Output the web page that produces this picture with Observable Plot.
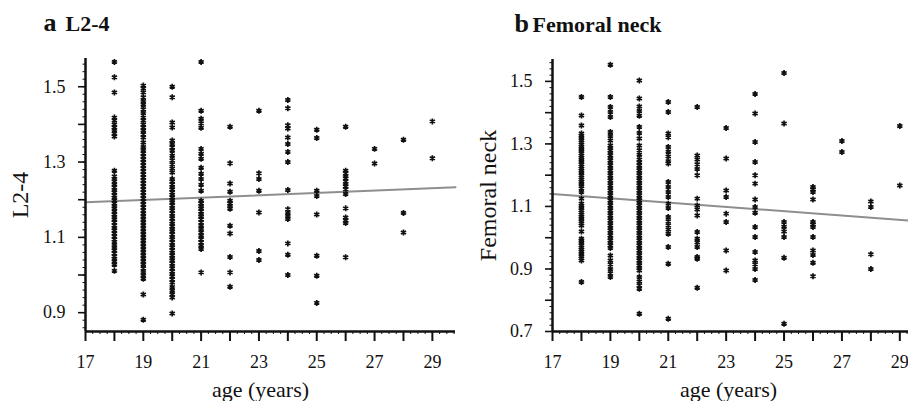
<!DOCTYPE html>
<html><head><meta charset="utf-8">
<script src="https://cdn.jsdelivr.net/npm/d3@7"></script>
<script src="https://cdn.jsdelivr.net/npm/@observablehq/plot@0.6"></script>
<style>
body{margin:0;background:#fff;}
#wrap{position:relative;width:908px;height:401px;overflow:hidden;background:#fff;}
#wrap svg{position:absolute;top:0;}
</style></head><body><div id="wrap"></div>
<script>
const ages = [18,19,20,21,22,23,24,25,26,27,28,29];
const xTickLabels = [17,19,21,23,25,27,29];

// Panel a: L2-4 BMD by age (one list per age)
const l24 = [
  [1.566,1.525,1.485,1.418,1.41,1.40,1.392,1.385,1.376,1.368,1.277,1.262,1.255,1.248,1.24,1.233,1.226,1.219,1.212,1.205,1.198,1.19,1.183,1.176,1.168,1.161,1.154,1.147,1.14,1.132,1.125,1.118,1.11,1.102,1.095,1.088,1.08,1.072,1.065,1.058,1.05,1.043,1.035,1.027,1.011],
  [1.503,1.495,1.485,1.472,1.462,1.452,1.44,1.43,1.418,1.41,1.4,1.392,1.383,1.374,1.365,1.352,1.34,1.332,1.323,1.315,1.307,1.299,1.291,1.283,1.275,1.267,1.259,1.251,1.243,1.235,1.227,1.219,1.211,1.203,1.195,1.187,1.179,1.171,1.163,1.155,1.147,1.139,1.131,1.123,1.115,1.107,1.099,1.091,1.083,1.075,1.067,1.059,1.051,1.043,1.035,1.027,1.018,1.008,0.998,0.99,0.948,0.881],
  [1.50,1.472,1.405,1.392,1.357,1.348,1.339,1.33,1.317,1.305,1.294,1.283,1.272,1.255,1.248,1.241,1.234,1.227,1.22,1.213,1.206,1.199,1.192,1.185,1.178,1.171,1.164,1.157,1.15,1.143,1.136,1.129,1.122,1.115,1.108,1.101,1.094,1.087,1.08,1.073,1.066,1.059,1.052,1.045,1.038,1.031,1.024,1.017,1.01,1.003,0.996,0.989,0.98,0.968,0.958,0.948,0.94,0.898],
  [1.566,1.436,1.415,1.403,1.391,1.335,1.322,1.309,1.285,1.269,1.255,1.24,1.224,1.197,1.19,1.183,1.176,1.169,1.162,1.155,1.148,1.14,1.131,1.122,1.113,1.104,1.095,1.087,1.078,1.069,1.007],
  [1.394,1.297,1.243,1.221,1.197,1.19,1.183,1.176,1.131,1.11,1.048,1.007,0.969],
  [1.436,1.27,1.255,1.224,1.166,1.064,1.04],
  [1.465,1.443,1.398,1.389,1.365,1.348,1.327,1.30,1.226,1.175,1.165,1.157,1.149,1.084,1.054,1.0],
  [1.386,1.364,1.224,1.21,1.161,1.051,0.998,0.926],
  [1.394,1.277,1.27,1.263,1.256,1.249,1.242,1.235,1.228,1.215,1.177,1.153,1.145,1.138,1.047],
  [1.335,1.296],
  [1.359,1.165,1.113],
  [1.408,1.31]
];

// Panel b: Femoral neck BMD by age
const fneck = [
  [1.45,1.391,1.359,1.333,1.326,1.319,1.312,1.305,1.298,1.291,1.284,1.277,1.27,1.263,1.256,1.249,1.242,1.235,1.228,1.221,1.214,1.207,1.2,1.193,1.186,1.179,1.172,1.165,1.158,1.146,1.125,1.109,1.102,1.095,1.088,1.081,1.074,1.067,1.06,1.053,1.046,1.039,1.02,0.997,0.99,0.983,0.976,0.969,0.962,0.955,0.948,0.941,0.934,0.927,0.858],
  [1.553,1.45,1.418,1.402,1.386,1.338,1.325,1.311,1.295,1.287,1.279,1.271,1.263,1.255,1.247,1.239,1.231,1.223,1.215,1.207,1.199,1.191,1.183,1.175,1.167,1.159,1.151,1.143,1.135,1.127,1.119,1.111,1.103,1.095,1.087,1.079,1.071,1.063,1.055,1.047,1.039,1.031,1.023,1.015,1.007,0.999,0.991,0.983,0.975,0.967,0.943,0.927,0.915,0.9,0.886,0.874],
  [1.503,1.445,1.42,1.405,1.39,1.354,1.335,1.317,1.295,1.28,1.265,1.25,1.24,1.231,1.223,1.215,1.207,1.199,1.191,1.183,1.175,1.167,1.159,1.151,1.143,1.135,1.127,1.119,1.111,1.103,1.095,1.087,1.079,1.071,1.063,1.055,1.047,1.039,1.031,1.023,1.015,1.007,0.999,0.991,0.983,0.975,0.967,0.959,0.951,0.943,0.935,0.927,0.919,0.911,0.903,0.895,0.874,0.86,0.848,0.837,0.757],
  [1.434,1.402,1.333,1.321,1.29,1.275,1.26,1.245,1.237,1.178,1.162,1.146,1.13,1.109,1.095,1.066,1.053,1.04,1.026,1.013,0.97,0.917,0.741],
  [1.418,1.263,1.25,1.235,1.22,1.2,1.125,1.103,1.09,1.071,1.018,0.997,0.985,0.97,0.938,0.933,0.84],
  [1.351,1.253,1.151,1.13,1.077,1.05,0.959,0.895],
  [1.46,1.397,1.306,1.242,1.2,1.173,1.122,1.098,1.08,1.034,1.002,0.954,0.927,0.915,0.9,0.865],
  [1.527,1.365,1.05,1.035,1.02,1.002,0.936,0.725],
  [1.162,1.154,1.146,1.122,1.05,1.042,1.034,1.002,0.959,0.945,0.92,0.877],
  [1.309,1.274],
  [1.116,1.098,0.947,0.9],
  [1.357,1.167]
];

// Fitted regression lines (endpoints)
const fitL24 = [{age:17, v:1.193},{age:29.8, v:1.233}];
const fitFneck = [{age:17, v:1.14},{age:29.3, v:1.055}];

const yTicksA = [0.9,1.1,1.3,1.5];
const yTicksB = [0.7,0.9,1.1,1.3,1.5];

const serif = "'Liberation Serif','Times New Roman',Times,serif";

function toPoints(lists){
  const out = [];
  ages.forEach((a,i)=>lists[i].forEach(v=>out.push({age:a, v})));
  return out;
}

function panel(o){
  const [x0,x1] = o.xDomain, [y0,y1] = o.yDomain;
  const minorY = d3.range(Math.ceil(y0*50), Math.floor(y1*50)+1).map(d=>d/50);
  const majorY = d3.range(Math.ceil(y0*10), Math.floor(y1*10)+1).map(d=>d/10);
  const minorX = d3.range(x0*4, Math.floor(x1*4)+1).map(d=>d/4);
  return Plot.plot({
    width:o.width, height:401,
    marginLeft:o.ml, marginRight:o.mr, marginTop:o.mt, marginBottom:70,
    x:{domain:o.xDomain}, y:{domain:o.yDomain},
    style:{fontFamily:serif, background:"transparent", overflow:"visible", color:"#111"},
    marks:[
      Plot.axisX(minorX, {tickSize:3, text:null, label:null, strokeWidth:1}),
      Plot.axisX(d3.range(17, Math.floor(x1)+1), {tickSize:10, text:null, label:null, strokeWidth:2}),
      Plot.axisX(xTickLabels, {tickSize:0, tickPadding:24, fontSize:18, label:null, tickFormat:d=>String(d)}),
      Plot.axisY(minorY, {tickSize:2.5, text:null, label:null, strokeWidth:1}),
      Plot.axisY(majorY, {tickSize:7, text:null, label:null, strokeWidth:1.6}),
      Plot.axisY(o.yTicks, {tickSize:0, tickPadding:o.tp, fontSize:18, label:null, tickFormat:d=>d.toFixed(1)}),
      Plot.line(o.fit, {x:"age", y:"v", stroke:"#8e8e8e", strokeWidth:2}),
      Plot.dot(toPoints(o.lists), {x:"age", y:"v", symbol:"asterisk", r:2.8, stroke:"#111", strokeWidth:1.7}),
      Plot.ruleX([x0], {strokeWidth:2.5, stroke:"#111"}),
      Plot.ruleY([y0], {strokeWidth:2.5, stroke:"#111"}),
      Plot.text([o.letter], {text:d=>d, frameAnchor:"top-left", dx:o.letterDx, dy:-28, textAnchor:"start", lineAnchor:"bottom", fontSize:26, fontWeight:"bold", fontFamily:serif, fill:"#111"}),
      Plot.text([o.title], {text:d=>d, frameAnchor:"top-left", dx:o.titleDx, dy:-28, textAnchor:"start", lineAnchor:"bottom", fontSize:22, fontWeight:"bold", fontFamily:serif, fill:"#111"}),
      Plot.text([o.ylabel], {text:d=>d, frameAnchor:"left", dx:o.ylabDx, rotate:-90, textAnchor:"middle", lineAnchor:"middle", fontSize:24, fontFamily:serif, fill:"#111"}),
      Plot.text(["age (years)"], {text:d=>d, frameAnchor:"bottom", dx:o.xlabDx, dy:65, textAnchor:"middle", lineAnchor:"bottom", fontSize:22, fontFamily:serif, fill:"#111"})
    ]
  });
}

const wrap = document.getElementById("wrap");
const a = panel({width:458, ml:85, mr:3, mt:58, xDomain:[17,29.8], yDomain:[0.85,1.575], yTicks:yTicksA, tp:20,
  lists:l24, fit:fitL24, letter:"a", letterDx:-42, title:"L2-4", titleDx:-20, ylabel:"L2-4", ylabDx:-65, xlabDx:-10});
a.style.left = "0px";
const b = panel({width:454, ml:98, mr:0, mt:59, xDomain:[17,29.3], yDomain:[0.7,1.57], yTicks:yTicksB, tp:20,
  lists:fneck, fit:fitFneck, letter:"b", letterDx:-38, title:"Femoral neck", titleDx:-20, ylabel:"Femoral neck", ylabDx:-64, xlabDx:-2});
b.style.left = "454px";
wrap.appendChild(a);
wrap.appendChild(b);
</script></body></html>
